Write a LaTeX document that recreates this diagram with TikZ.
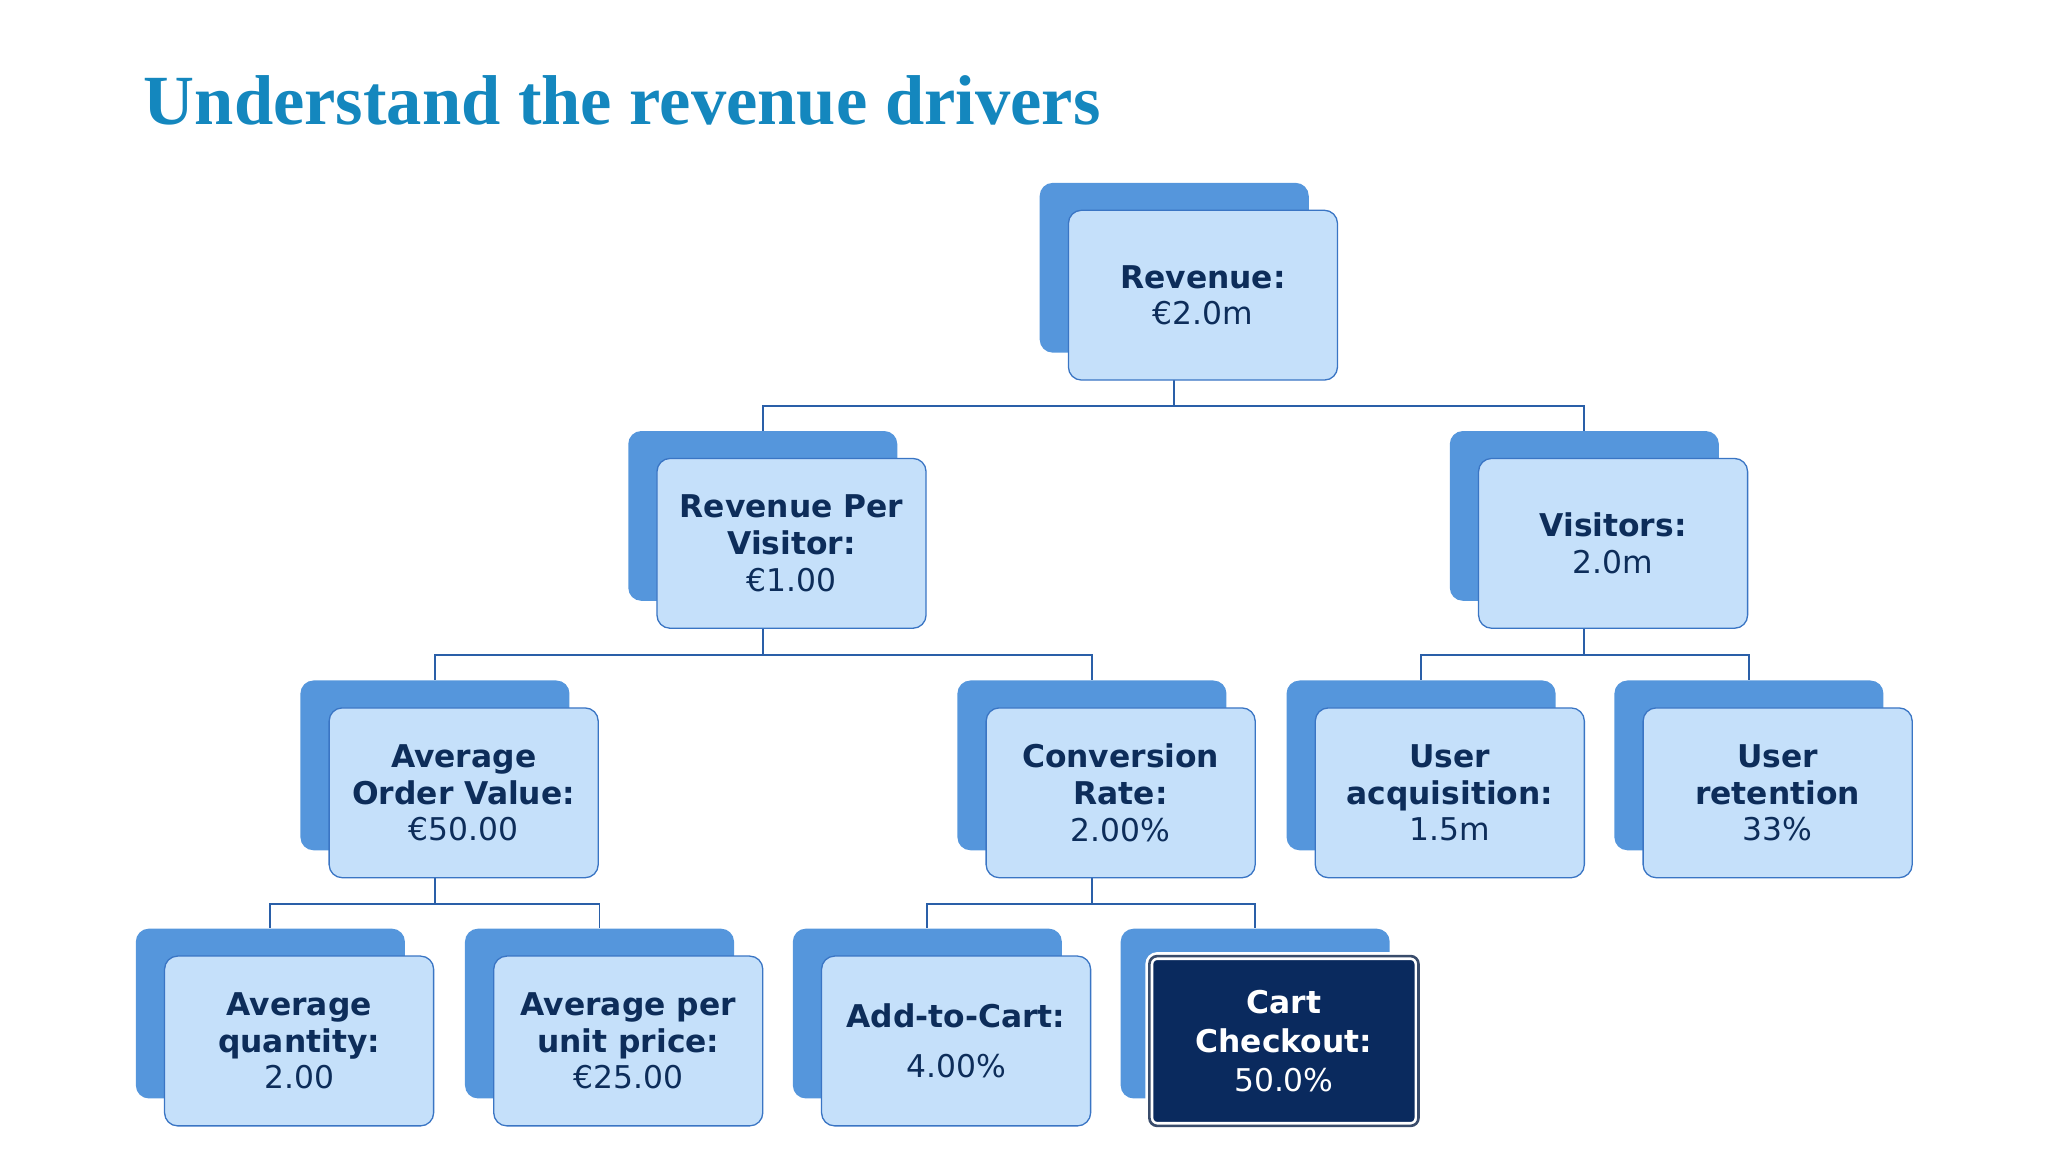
\documentclass[tikz,border=0pt]{standalone}
\usepackage{fontspec}
\setmainfont{DejaVu Sans}
\newfontfamily\titlefont{Liberation Serif}
\usetikzlibrary{backgrounds}
\definecolor{frontc}{HTML}{C5E0FA}
\definecolor{edgec}{HTML}{3A75C4}
\definecolor{backc}{HTML}{5596DC}
\definecolor{txtc}{HTML}{0D2D5A}
\definecolor{darkc}{HTML}{0A2A5E}
\definecolor{titlec}{HTML}{1487BE}
\definecolor{linec}{HTML}{2A5FA8}
\tikzset{
 backbox/.style={fill=backc,rounded corners=10pt,minimum width=206pt,minimum height=130pt,inner sep=0pt},
 frontbox/.style={fill=frontc,draw=edgec,line width=1pt,rounded corners=10pt,minimum width=206pt,minimum height=130pt,inner sep=0pt,align=center,text=txtc,font=\fontsize{24}{28}\selectfont},
 darkbox/.style={fill=darkc,draw=white,double=darkc!60!gray,double distance=2pt,line width=2pt,rounded corners=6pt,minimum width=206pt,minimum height=130pt,inner sep=0pt,align=center,text=white,font=\fontsize{24}{30}\selectfont},
 conn/.style={draw=linec,line width=1.5pt}
}
\newcommand{\tbox}[5][frontbox]{%
 \node[backbox] (#2b) at (#3-22,#4-21) {};
 \node[#1] (#2) at (#3,#4) {#5};}
\begin{document}
\begin{tikzpicture}[x=1pt,y=-1pt]
\useasboundingbox (0,0) rectangle (1568,882);
\node[anchor=base west,inner sep=0pt,text=titlec,font=\titlefont\bfseries\fontsize{54}{60}\selectfont] (title) at (110,95) {Understand the revenue drivers};
\tbox{rev}{921}{226}{\textbf{Revenue:}\\€2.0m}
\tbox{rpv}{606}{416}{\textbf{Revenue Per}\\\textbf{Visitor:}\\€1.00}
\tbox{vis}{1235}{416}{\textbf{Visitors:}\\2.0m}
\tbox{aov}{355}{607}{\textbf{Average}\\\textbf{Order Value:}\\€50.00}
\tbox{cr}{858}{607}{\textbf{Conversion}\\\textbf{Rate:}\\2.00\%}
\tbox{ua}{1110}{607}{\textbf{User}\\\textbf{acquisition:}\\1.5m}
\tbox{ur}{1361}{607}{\textbf{User}\\\textbf{retention}\\33\%}
\tbox{aq}{229}{797}{\textbf{Average}\\\textbf{quantity:}\\2.00}
\tbox{aup}{481}{797}{\textbf{Average per}\\\textbf{unit price:}\\€25.00}
\tbox{atc}{732}{797}{\textbf{Add-to-Cart:}\\[10pt]4.00\%}
\tbox[darkbox]{cc}{983}{797}{\textbf{Cart}\\\textbf{Checkout:}\\50.0\%}
\begin{scope}[on background layer]
\foreach \p/\c in {rev/rpv,rev/vis,rpv/aov,rpv/cr,vis/ua,vis/ur,aov/aq,aov/aup,cr/atc,cr/cc}{
 \draw[conn] (\p b.south) -- ++(0,41) -| (\c b.north);
}
\end{scope}
\end{tikzpicture}
\end{document}
